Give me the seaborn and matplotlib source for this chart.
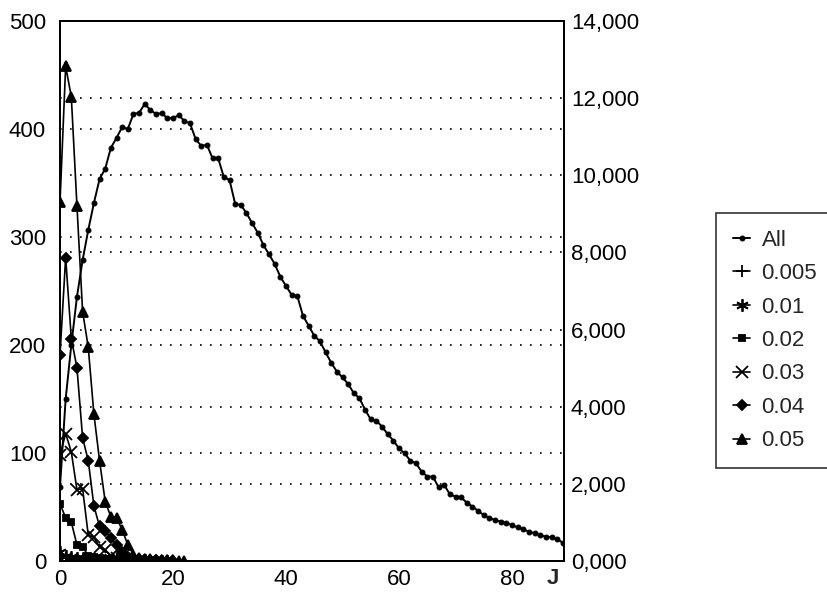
import matplotlib
matplotlib.use("Agg")
import matplotlib.pyplot as plt
import seaborn as sns
import pandas as pd
from matplotlib.ticker import FuncFormatter, FixedLocator

# ---------------- data ----------------
all_counts = [1920, 4200, 5600, 6850, 7800, 8580, 9280, 9900, 10170, 10710,
              10970, 11250, 11200, 11590, 11620, 11850, 11690, 11590, 11610, 11480,
              11480, 11560, 11410, 11350, 10940, 10760, 10790, 10440, 10440, 9950,
              9880, 9260, 9230, 9020, 8760, 8510, 8190, 7950, 7700, 7370,
              7130, 6900, 6870, 6360, 6100, 5840, 5700, 5410, 5140, 4910,
              4760, 4590, 4350, 4220, 3920, 3670, 3640, 3480, 3290, 3120,
              2920, 2790, 2600, 2530, 2320, 2190, 2190, 1910, 1970, 1730,
              1670, 1650, 1510, 1410, 1300, 1190, 1120, 1060, 1020, 990,
              930, 870, 820, 760, 720, 670, 630, 615, 565, 475]

s0005 = [5, 3, 2, 2, 1, 1, 1, 1, 0, 0, 1, 0, 0, 1, 0, 0, 0, 0, 0, 0]
s001 = [8, 5, 4, 3, 3, 2, 2, 1, 1, 1, 1, 0, 1, 0, 0, 1, 0, 0, 0, 0]
s002 = [53, 40, 36, 15, 13, 5, 4, 3, 2, 2, 1, 1, 0, 0, 1, 0, 0, 0]
s003 = [98, 118, 101, 66, 67, 24, 22, 13, 10, 5, 3, 2, 1, 1, 1, 0, 0, 0, 0, 0]
s004 = [191, 281, 206, 179, 114, 93, 51, 32, 28, 21, 15, 8, 4, 3, 2, 1, 1, 1, 0, 0, 0]
s005 = [332, 458, 430, 329, 231, 198, 136, 93, 55, 41, 40, 29, 15, 6, 3, 2, 2, 1, 1, 1, 1, 0, 0]

series_names = ["0.005", "0.01", "0.02", "0.03", "0.04", "0.05"]
series_vals = [s0005, s001, s002, s003, s004, s005]

left_ticks = [0, 100, 200, 300, 400, 500]
right_ticks = [0, 2000, 4000, 6000, 8000, 10000, 12000, 14000]
x_ticks = [0, 20, 40, 60, 80]

# ---------------- frames ----------------
rows = []
for name, vals in zip(series_names, series_vals):
    for i, v in enumerate(vals):
        rows.append({"J": i, "value": v, "series": name})
df_small = pd.DataFrame(rows)
df_all = pd.DataFrame({"J": list(range(len(all_counts))), "value": all_counts})

# ---------------- style ----------------
sns.set_theme(style="white")
plt.rcParams["font.family"] = ["Liberation Sans", "DejaVu Sans"]
plt.rcParams["font.size"] = 16

fig = plt.figure(figsize=(8.27, 5.98), dpi=100)
ax = fig.add_axes([60 / 827, 1 - 561 / 598, (564 - 60) / 827, (561 - 21) / 598])
ax2 = ax.twinx()

markers = {"0.005": "+", "0.01": (6, 2, 0), "0.02": "s", "0.03": "x",
           "0.04": "D", "0.05": "^"}
sizes = {"0.005": 9, "0.01": 9, "0.02": 5, "0.03": 9, "0.04": 5.5, "0.05": 7}

for name in series_names:
    sub = df_small[df_small["series"] == name]
    sns.lineplot(data=sub, x="J", y="value", ax=ax, color="black",
                 marker=markers[name], markersize=sizes[name],
                 markeredgecolor="black", markerfacecolor="black",
                 markeredgewidth=1.3, linewidth=1.2, label=name, legend=False,
                 zorder=3)

sns.lineplot(data=df_all, x="J", y="value", ax=ax2, color="black", marker="o",
             markersize=3.5, markeredgecolor="black", linewidth=1.4,
             label="All", legend=False, zorder=3)

# ---------------- axes ----------------
ax.set_xlim(0, 89.2)
ax.set_ylim(0, 500)
ax2.set_ylim(0, 14000)
ax.xaxis.set_major_locator(FixedLocator(x_ticks))
ax.yaxis.set_major_locator(FixedLocator(left_ticks))
ax2.yaxis.set_major_locator(FixedLocator(right_ticks))
ax2.yaxis.set_major_formatter(FuncFormatter(lambda v, p: "0,000" if v == 0 else f"{int(v):,}"))
ax.set_xlabel("")
ax.set_ylabel("")
ax2.set_ylabel("")

ax.tick_params(axis="x", length=0, labelsize=16, pad=6, colors="black")
ax.tick_params(axis="y", length=0, labelsize=16, pad=10, colors="black")
ax2.tick_params(axis="y", length=0, labelsize=16, pad=5, colors="black")

grid_kw = dict(color="black", linestyle=(0, (1, 5)), linewidth=1.2)
for yv in left_ticks[1:-1]:
    ax.axhline(yv, zorder=1, **grid_kw)
for yv in right_ticks[1:-1]:
    ax2.axhline(yv, zorder=1, **grid_kw)

for a in (ax, ax2):
    for s in a.spines.values():
        s.set_color("black")
        s.set_linewidth(1.4)
ax.patch.set_visible(False)

fig.text(553 / 827, 1 - 578 / 598, "J", fontsize=16, fontweight="bold",
         ha="center", va="center")

# ---------------- legend ----------------
h1, l1 = ax.get_legend_handles_labels()
h2, l2 = ax2.get_legend_handles_labels()
handles = h2 + h1
labels = l2 + l1
leg = fig.legend(handles, labels, loc="upper left",
                 bbox_to_anchor=(716 / 827, 1 - 213 / 598),
                 frameon=True, fancybox=False, edgecolor="black",
                 fontsize=16, handlelength=0.8, handletextpad=0.5,
                 labelspacing=0.56, borderpad=0.75, borderaxespad=0)
leg.get_frame().set_linewidth(1.2)

fig.savefig("out.png", dpi=100, facecolor="white")
